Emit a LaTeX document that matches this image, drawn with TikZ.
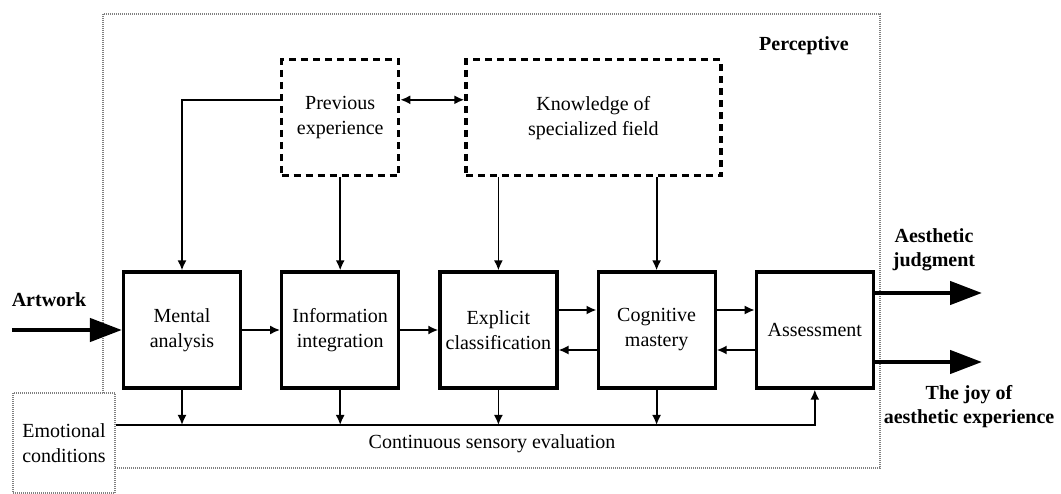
\documentclass[tikz,border=0pt]{standalone}
\usepackage{fontspec}
\setmainfont{Liberation Serif}
\usetikzlibrary{positioning}
\usetikzlibrary{arrows.meta}
\tikzset{stage/.style={
          draw, line width=3.2pt,
          minimum width=117pt, minimum height=116pt,
          align=center, inner sep=2pt
          },
        store/.style={
          draw, line width=3.2pt, dash pattern=on 7pt off 5pt,
          minimum height=116pt, align=center
          },
        frame/.style={draw=gray, line width=1.2pt, dash pattern=on 1pt off 1pt},
        flow/.style={line width=1.8pt, -{Latex[length=10pt,width=9pt]}},
        twoway/.style={line width=1.8pt, {Latex[length=10pt,width=9pt]}-{Latex[length=10pt,width=9pt]}},
        bigflow/.style={line width=4.5pt, -{Triangle[length=32pt,width=23pt]}},
        tag/.style={font=\fontsize{20}{24}\selectfont\bfseries, align=center},
}

\begin{document}
\begin{tikzpicture}[x=1pt, y=-1pt, font=\fontsize{20}{25}\selectfont]
      \useasboundingbox (0,0) rectangle (1061,494);
      % PERCEPTIVE FRAME
      \draw[frame] (103,14) rectangle (880,468);
      \node[tag] (percep) at (804,46) {Perceptive};

      % STAGES
      \node[stage] (mental) at (182,330) {Mental\\analysis};
      \node[stage, right=38pt of mental] (integ) {Information\\integration};
      \node[stage, right=38pt of integ] (explic) {Explicit\\classification};
      \node[stage, right=38pt of explic] (cogn) {Cognitive\\mastery};
      \node[stage, right=38pt of cogn] (assess) {Assessment};

      % MEMORY
      \node[store, minimum width=117pt, above=93pt of integ] (prevexp) {Previous\\experience};
      \node[store, minimum width=255pt, right=64pt of prevexp] (knowl) {Knowledge of\\specialized field};

      % EMOTION AND EVALUATION
      \node[frame, fill=white, align=center, minimum width=102pt, minimum height=100pt] (emot) at (64,443) {Emotional\\conditions};
      \coordinate (bus) at (0,425);
      \node (sense) at (492,444) {Continuous sensory evaluation};

      % WIRING
      \draw[flow] (mental) -- (integ);
      \draw[flow] (integ) -- (explic);
      \draw[flow] ([yshift=20pt]explic.east) -- ([yshift=20pt]explic.east -| cogn.west);
      \draw[flow] ([yshift=-20pt]cogn.west) -- ([yshift=-20pt]cogn.west -| explic.east);
      \draw[flow] ([yshift=20pt]cogn.east) -- ([yshift=20pt]cogn.east -| assess.west);
      \draw[flow] ([yshift=-20pt]assess.west) -- ([yshift=-20pt]assess.west -| cogn.east);

      \draw[flow] ([yshift=18pt]prevexp.west) -| (mental);
      \draw[flow] (prevexp) -- (integ);
      \draw[flow] (knowl.south -| explic) -- (explic);
      \draw[flow] (knowl.south -| cogn) -- (cogn);
      \draw[twoway] ([yshift=18pt]prevexp.east) -- ([yshift=18pt]prevexp.east -| knowl.west);

      \foreach \s in {mental, integ, explic, cogn}
        \draw[flow] (\s.south) -- (\s.south |- bus);
      \draw[flow] (emot.east |- bus) -| (assess.south);

      % INPUT AND OUTPUTS
      \coordinate[left=110pt of mental.west] (artin);
      \node[tag] (artlabel) at (49,300) {Artwork};
      \draw[bigflow] (artin) -- (mental.west);

      \coordinate (judgout) at (982,293);
      \coordinate (joyout) at (982,362);
      \draw[bigflow] (assess.east |- judgout) -- (judgout);
      \draw[bigflow] (assess.east |- joyout) -- (joyout);
      \node[tag] (judglabel) at (934,250) {Aesthetic\\judgment};
      \node[tag] (joylabel) at (969,407) {The joy of\\aesthetic experience};
\end{tikzpicture}
\end{document}
